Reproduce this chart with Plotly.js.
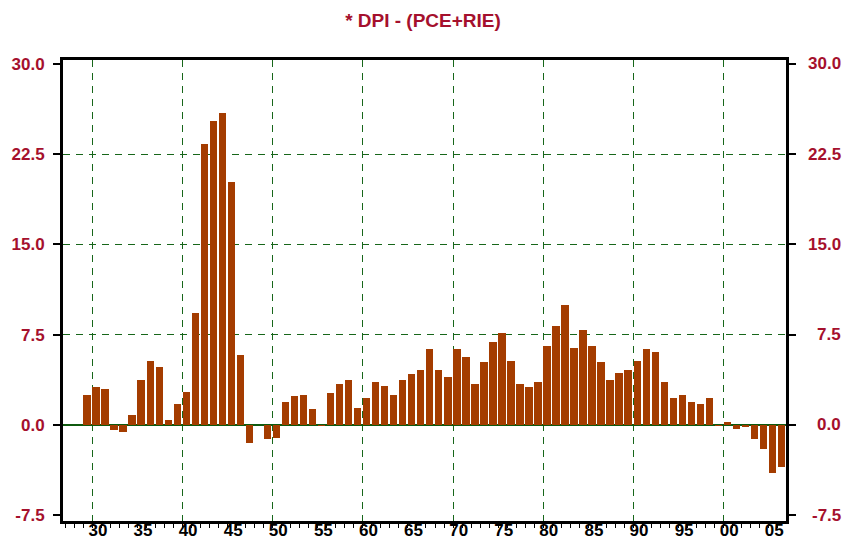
<!DOCTYPE html>
<html>
<head>
<meta charset="utf-8">
<script src="https://cdn.plot.ly/plotly-3.0.1.min.js"></script>
<style>html,body{margin:0;padding:0;background:#fff;}#chart{width:846px;height:540px;}</style>
</head>
<body>
<div id="chart"></div>
<script>
// Data: year -> DPI - (PCE+RIE)
const years = [1929,1930,1931,1932,1933,1934,1935,1936,1937,1938,1939,
  1940,1941,1942,1943,1944,1945,1946,1947,1948,1949,
  1950,1951,1952,1953,1954,1955,1956,1957,1958,1959,
  1960,1961,1962,1963,1964,1965,1966,1967,1968,1969,
  1970,1971,1972,1973,1974,1975,1976,1977,1978,1979,
  1980,1981,1982,1983,1984,1985,1986,1987,1988,1989,
  1990,1991,1992,1993,1994,1995,1996,1997,1998,1999,
  2000,2001,2002,2003,2004,2005,2006];
const values = [2.5,3.17,3.0,-0.45,-0.58,0.83,3.75,5.33,4.83,0.42,1.75,
  2.75,9.33,23.33,25.25,25.92,20.17,5.83,-1.5,0.0,-1.17,
  -1.08,1.92,2.42,2.5,1.33,-0.1,2.67,3.42,3.75,1.42,
  2.25,3.58,3.25,2.5,3.75,4.25,4.58,6.33,4.58,4.0,
  6.33,5.67,3.42,5.25,6.92,7.67,5.33,3.42,3.17,3.58,
  6.58,8.25,10.0,6.42,7.92,6.58,5.25,3.75,4.33,4.58,
  5.33,6.33,6.1,3.58,2.25,2.5,1.92,1.75,2.25,-0.1,
  0.25,-0.33,-0.17,-1.17,-2.0,-4.0,-3.5];
const yTicks = [-7.5,0,7.5,15,22.5,30];
const yTickText = ['-7.5','0.0','7.5','15.0','22.5','30.0'];
const yGrid = [7.5,15,22.5];
const decadeYears = [1930,1940,1950,1960,1970,1980,1990,2000];
const extraTickYears = [1927,1928];
const labelYears = [1930,1935,1940,1945,1950,1955,1960,1965,1970,1975,1980,1985,1990,1995,2000,2005];
const labelText = ['30','35','40','45','50','55','60','65','70','75','80','85','90','95','00','05'];
const titleText = '* DPI - (PCE+RIE)';

const RED = '#a5102d';
const GREEN = '#17661a';
const BAR = '#a43c00';
const FONT = 'Liberation Sans, Arial, sans-serif';

const xRange = [1926.75, 2006.92];

const traces = [
  {
    type: 'bar',
    x: years.map(y => y + 0.42),
    y: values,
    width: 0.82,
    marker: {color: BAR, line: {width: 0}},
    hoverinfo: 'x+y'
  },
  {
    type: 'scatter', mode: 'markers', x: [], y: [], xaxis: 'x2', yaxis: 'y',
    showlegend: false, hoverinfo: 'skip'
  }
];

const annotations = yTicks.map((v, i) => ({
  xref: 'paper', yref: 'y', x: 1, y: v, xanchor: 'right', yanchor: 'middle',
  xshift: 57, text: yTickText[i], showarrow: false,
  font: {family: FONT, size: 17, color: RED, weight: 'bold'}
}));

const layout = {
  width: 846, height: 540,
  margin: {l: 63, r: 60, t: 60, b: 19, pad: 0},
  paper_bgcolor: '#ffffff', plot_bgcolor: '#ffffff',
  showlegend: false,
  bargap: 0,
  title: {
    text: titleText,
    x: 0.5, xref: 'container', xanchor: 'center',
    y: 1 - 20/540, yref: 'container', yanchor: 'middle',
    font: {family: FONT, size: 19, color: RED, weight: 'bold'}
  },
  xaxis: {
    range: xRange,
    tickmode: 'array', tickvals: decadeYears,
    showticklabels: false, ticks: '',
    showgrid: true, gridcolor: GREEN, gridwidth: 1, griddash: '7px,6px',
    zeroline: false,
    showline: true, linecolor: '#000', linewidth: 3, mirror: true,
    minor: {tickmode: 'array', tickvals: years.concat(extraTickYears), ticks: 'outside', ticklen: 4, tickwidth: 1, tickcolor: '#000', showgrid: false},
    automargin: false, fixedrange: true
  },
  xaxis2: {
    overlaying: 'x', matches: 'x', anchor: 'y', side: 'bottom',
    range: xRange,
    tickmode: 'array', tickvals: labelYears.map(y => y + 0.62), ticktext: labelText,
    ticks: '', showgrid: false, zeroline: false, showline: false,
    tickfont: {family: FONT, size: 17, color: '#000', weight: 'bold'},
    ticklabelstandoff: -3,
    automargin: false, fixedrange: true
  },
  yaxis: {
    range: [-7.98, 30.33],
    tickmode: 'array', tickvals: yTicks, ticktext: yTickText,
    ticks: 'outside', ticklen: 7, tickwidth: 2, tickcolor: '#000',
    tickfont: {family: FONT, size: 17, color: RED, weight: 'bold'},
    ticklabelstandoff: 5,
    showgrid: false,
    minor: {tickmode: 'array', tickvals: yGrid, ticks: '', showgrid: true, gridcolor: GREEN, gridwidth: 1, griddash: '7px,6px'},
    zeroline: true, zerolinecolor: '#0f5a0f', zerolinewidth: 2,
    showline: true, linecolor: '#000', linewidth: 3, mirror: 'ticks',
    automargin: false, fixedrange: true
  },
  annotations: annotations
};

Plotly.newPlot('chart', traces, layout, {staticPlot: true, displayModeBar: false});
</script>
</body>
</html>
